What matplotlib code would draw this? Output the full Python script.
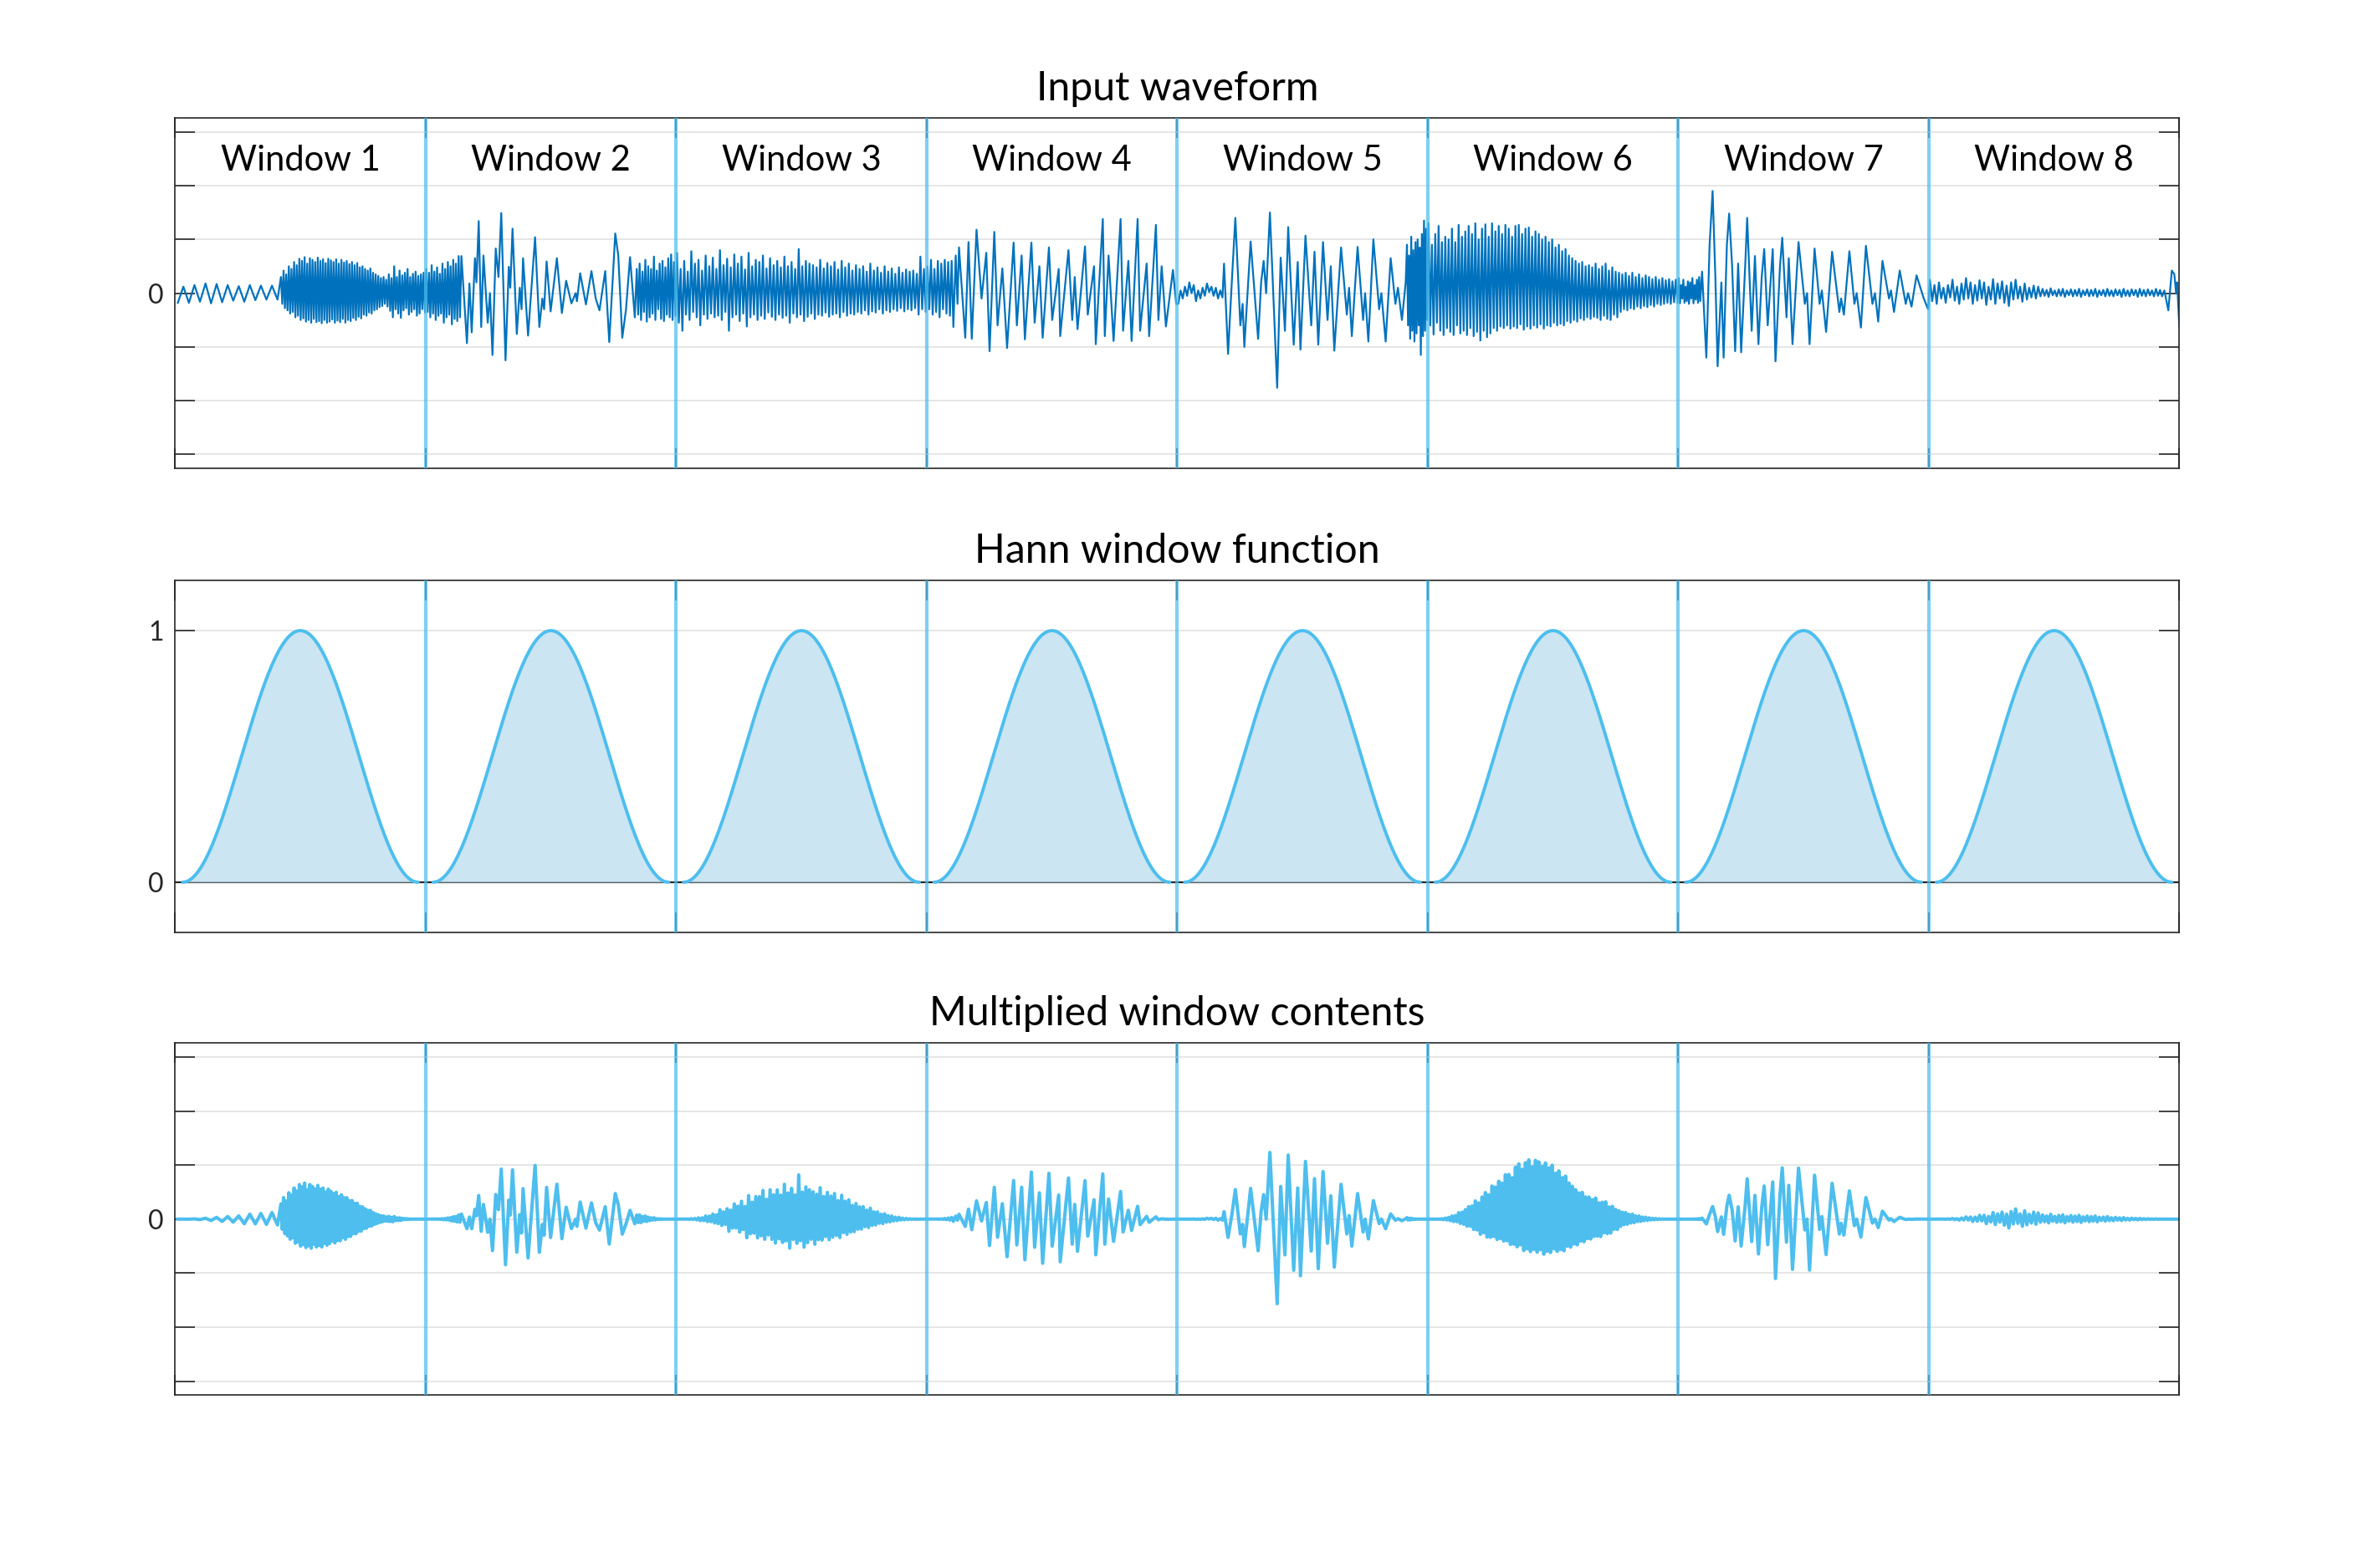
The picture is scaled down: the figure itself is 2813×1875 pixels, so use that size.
import numpy as np
import matplotlib
matplotlib.use("Agg")
import matplotlib.pyplot as plt

# ---------------- data ----------------
titles = ["Input waveform", "Hann window function", "Multiplied window contents"]
window_labels = ["Window 1", "Window 2", "Window 3", "Window 4",
                 "Window 5", "Window 6", "Window 7", "Window 8"]
n_windows = 8
hann_gap = 0.03          # fraction of a window left empty at each edge
wave_ticks = [-3, -2, -1, 0, 1, 2, 3]
hann_ticks = [0, 1]

# Window 1
w1_slow = [-0.18, 0.12, -0.18, 0.15, -0.16, 0.18, -0.19, 0.17, -0.17, 0.15,
           -0.14, 0.13, -0.16, 0.15, -0.13, 0.14, -0.12, 0.14, -0.12]
w1_burst_peaks = [0.30, 0.42, 0.35, 0.50, 0.45, 0.58, 0.52, 0.64, 0.60, 0.67,
                  0.55, 0.65, 0.62, 0.58, 0.66, 0.60, 0.63, 0.56, 0.64, 0.61,
                  0.58, 0.63, 0.55, 0.62, 0.57, 0.60, 0.54, 0.58, 0.52, 0.56,
                  0.48, 0.50, 0.45, 0.42, 0.46, 0.38, 0.35, 0.32, 0.28, 0.30]
w1_burst_troughs = [-0.20, -0.28, -0.32, -0.38, -0.35, -0.45, -0.42, -0.50, -0.47, -0.53,
                    -0.50, -0.55, -0.48, -0.54, -0.52, -0.56, -0.50, -0.55, -0.53, -0.49,
                    -0.55, -0.51, -0.54, -0.48, -0.55, -0.50, -0.52, -0.46, -0.50, -0.44,
                    -0.47, -0.40, -0.42, -0.36, -0.38, -0.32, -0.30, -0.26, -0.24, -0.20]
w1_tail_peaks = [0.25, 0.35, 0.28, 0.50, 0.30, 0.42, 0.33, 0.38, 0.45, 0.30,
                 0.36, 0.40, 0.32, 0.35, 0.38]
w1_tail_troughs = [-0.25, -0.33, -0.45, -0.30, -0.38, -0.46, -0.32, -0.28, -0.40, -0.35,
                   -0.30, -0.42, -0.38, -0.30, -0.36]

# Window 2
w2_head_peaks = [0.45, 0.38, 0.52, 0.40, 0.48, 0.36, 0.55, 0.45, 0.58, 0.50, 0.62, 0.55, 0.69]
w2_head_troughs = [-0.35, -0.45, -0.38, -0.50, -0.42, -0.38, -0.55, -0.45, -0.40, -0.58,
                   -0.48, -0.52, -0.45]
w2_pos = [0.143, 0.165, 0.175, 0.184, 0.197, 0.203, 0.212, 0.222, 0.231, 0.248,
          0.257, 0.267, 0.280, 0.291, 0.302, 0.319, 0.332, 0.338, 0.347, 0.364,
          0.376, 0.383, 0.389, 0.409, 0.424, 0.437, 0.454, 0.466, 0.473, 0.483,
          0.499, 0.524, 0.544, 0.561, 0.582, 0.599, 0.604, 0.617, 0.640, 0.662,
          0.679, 0.694, 0.717, 0.733, 0.757, 0.769, 0.785, 0.800, 0.816, 0.835]
w2_val = [0.69, -0.93, 0.18, -0.73, 0.65, 0.20, 1.34, -0.63, 0.70, -0.55,
          0.00, -1.15, 0.83, 0.30, 1.49, -1.25, 0.49, 0.10, 1.20, -0.76,
          0.10, -0.30, 0.65, -0.79, 0.20, 1.04, -0.63, -0.10, -0.30, 0.59,
          -0.34, 0.65, -0.37, 0.23, -0.19, 0.00, -0.15, 0.37, -0.21, 0.41,
          -0.10, -0.32, 0.41, -0.91, 1.11, 0.70, -0.83, -0.30, 0.67, -0.45]
w2_tail_peaks = [0.45, 0.55, 0.40, 0.62, 0.50, 0.45, 0.68, 0.42, 0.55, 0.60,
                 0.48, 0.65, 0.72, 0.58]
w2_tail_troughs = [-0.40, -0.50, -0.35, -0.53, -0.45, -0.38, -0.50, -0.30, -0.48, -0.52,
                   -0.40, -0.45, -0.50, -0.42]

# Window 3
w3_peaks = [0.75, 0.45, 0.60, 0.40, 0.78, 0.55, 0.62, 0.42, 0.70, 0.50,
            0.66, 0.45, 0.80, 0.52, 0.64, 0.48, 0.72, 0.55, 0.68, 0.44,
            0.75, 0.50, 0.62, 0.58, 0.70, 0.46, 0.65, 0.52, 0.60, 0.48,
            0.68, 0.50, 0.58, 0.45, 0.82, 0.50, 0.60, 0.55, 0.52, 0.48,
            0.62, 0.46, 0.56, 0.50, 0.58, 0.44, 0.60, 0.48, 0.55, 0.42,
            0.52, 0.45, 0.50, 0.40, 0.55, 0.42, 0.48, 0.38, 0.50, 0.40,
            0.46, 0.36, 0.48, 0.38, 0.44, 0.40, 0.42, 0.36, 0.68, 0.45]
w3_troughs = [-0.55, -0.70, -0.40, -0.50, -0.35, -0.45, -0.60, -0.40, -0.48, -0.38,
              -0.45, -0.42, -0.50, -0.35, -0.70, -0.45, -0.40, -0.52, -0.38, -0.62,
              -0.45, -0.40, -0.50, -0.42, -0.48, -0.36, -0.44, -0.50, -0.40, -0.46,
              -0.42, -0.55, -0.38, -0.45, -0.40, -0.52, -0.44, -0.38, -0.48, -0.40,
              -0.42, -0.36, -0.44, -0.40, -0.38, -0.45, -0.35, -0.42, -0.38, -0.40,
              -0.35, -0.38, -0.32, -0.40, -0.34, -0.36, -0.30, -0.38, -0.32, -0.35,
              -0.30, -0.33, -0.28, -0.34, -0.30, -0.32, -0.28, -0.40, -0.30, -0.35]

# Window 4
w4_head_peaks = [0.50, 0.62, 0.45, 0.60, 0.55, 0.62, 0.58, 0.60]
w4_head_troughs = [-0.30, -0.40, -0.35, -0.45, -0.30, -0.38, -0.42, -0.63]
w4_pos = [0.116, 0.123, 0.129, 0.154, 0.167, 0.180, 0.199, 0.219, 0.238, 0.251,
          0.270, 0.283, 0.302, 0.321, 0.347, 0.360, 0.379, 0.392, 0.418, 0.431,
          0.450, 0.463, 0.488, 0.501, 0.527, 0.533, 0.566, 0.581, 0.591, 0.602,
          0.632, 0.643, 0.668, 0.675, 0.703, 0.711, 0.726, 0.746, 0.774, 0.784,
          0.805, 0.818, 0.842, 0.852, 0.878, 0.888, 0.915, 0.925, 0.938, 0.955,
          0.983, 0.996]
w4_val = [0.70, -0.20, 0.85, -0.83, 0.95, -0.85, 1.18, -0.10, 0.75, -1.08,
          1.14, -0.60, 0.46, -1.02, 0.94, -0.60, 0.70, -0.86, 0.94, -0.55,
          0.50, -0.83, 0.85, -0.50, 0.45, -0.80, 0.80, -0.50, 0.30, -0.67,
          0.87, -0.40, 0.50, -0.95, 1.38, -0.80, 0.70, -0.89, 1.38, -0.70,
          0.60, -0.89, 1.38, -0.70, 0.55, -0.80, 1.27, -0.50, 0.50, -0.62,
          0.43, -0.20]

# Window 5
w5_head = [-0.20, 0.05, -0.10, 0.12, -0.05, 0.20, 0.00, 0.15, -0.15, 0.05,
           -0.10, 0.10, -0.05, 0.18, 0.02, 0.12, -0.05, 0.10, -0.10, 0.05, -0.08]
w5_pos = [0.187, 0.203, 0.219, 0.232, 0.252, 0.261, 0.268, 0.293, 0.323, 0.335,
          0.345, 0.355, 0.370, 0.399, 0.413, 0.430, 0.443, 0.465, 0.481, 0.492,
          0.512, 0.535, 0.548, 0.563, 0.582, 0.600, 0.613, 0.627, 0.654, 0.677,
          0.686, 0.697, 0.720, 0.742, 0.750, 0.763, 0.783, 0.806, 0.815, 0.832,
          0.852, 0.871, 0.881, 0.897, 0.912]
w5_val = [0.55, -1.13, 0.30, 1.40, -0.60, -0.20, -1.00, 0.96, -0.85, 0.20,
          0.60, 0.00, 1.50, -1.76, 0.66, -0.70, 1.23, -0.96, 0.58, -1.05,
          1.07, -0.60, 0.77, -0.96, 0.95, -0.50, 0.50, -1.07, 0.85, -0.40,
          0.10, -0.80, 0.86, -0.50, 0.00, -0.90, 1.00, -0.30, 0.00, -0.90,
          0.65, -0.20, 0.10, -0.50, 0.20]
w5_tail_peaks = [0.90, 0.70, 1.05, 0.80, 0.95, 1.00, 0.85, 1.10, 1.35, 1.20]
w5_tail_troughs = [-0.60, -0.85, -0.70, -0.90, -0.75, -0.60, -1.15, -0.80, -0.70, -0.50]

# Window 6
w6_peaks = [1.30, 0.90, 1.10, 1.25, 0.95, 1.05, 1.00, 1.20, 0.95, 1.27,
            1.05, 1.15, 1.25, 1.10, 1.30, 1.00, 1.20, 1.28, 1.05, 1.30,
            1.15, 1.25, 1.10, 1.27, 1.20, 1.05, 1.25, 1.27, 1.10, 1.20,
            1.22, 1.05, 1.15, 1.10, 1.00, 1.05, 0.95, 1.00, 0.85, 0.90,
            0.78, 0.82, 0.70, 0.65, 0.60, 0.55, 0.58, 0.50, 0.52, 0.48,
            0.55, 0.45, 0.50, 0.55, 0.42, 0.48, 0.40, 0.38, 0.35, 0.38,
            0.32, 0.38, 0.30, 0.35, 0.28, 0.33, 0.30, 0.26, 0.30, 0.25,
            0.28, 0.24, 0.26, 0.22, 0.25]
w6_troughs = [-0.60, -0.77, -0.55, -0.70, -0.78, -0.65, -0.72, -0.78, -0.60, -0.75,
              -0.70, -0.78, -0.65, -0.80, -0.72, -0.88, -0.70, -0.82, -0.75, -0.65,
              -0.70, -0.62, -0.65, -0.60, -0.66, -0.62, -0.65, -0.58, -0.68, -0.62,
              -0.66, -0.60, -0.64, -0.58, -0.66, -0.60, -0.62, -0.55, -0.60, -0.57,
              -0.60, -0.52, -0.55, -0.50, -0.53, -0.47, -0.50, -0.45, -0.48, -0.44,
              -0.46, -0.50, -0.42, -0.48, -0.50, -0.40, -0.45, -0.35, -0.30, -0.32,
              -0.28, -0.30, -0.25, -0.28, -0.24, -0.26, -0.22, -0.25, -0.20, -0.22,
              -0.20, -0.18, -0.20, -0.17, -0.18]

# Window 7
w7_head_peaks = [0.28, 0.15, 0.25, 0.12, 0.22, 0.20, 0.28, 0.15, 0.25, 0.30]
w7_head_troughs = [-0.19, -0.10, -0.18, -0.15, -0.20, -0.10, -0.19, -0.12, -0.18, -0.15]
w7_pos = [0.095, 0.112, 0.125, 0.137, 0.148, 0.157, 0.172, 0.181, 0.194, 0.203,
          0.215, 0.227, 0.239, 0.251, 0.267, 0.275, 0.293, 0.306, 0.320, 0.333,
          0.343, 0.357, 0.377, 0.388, 0.406, 0.415, 0.432, 0.441, 0.456, 0.480,
          0.505, 0.514, 0.524, 0.544, 0.564, 0.573, 0.590, 0.614, 0.643, 0.650,
          0.661, 0.683, 0.703, 0.712, 0.729, 0.749, 0.775, 0.785, 0.798, 0.815,
          0.841, 0.849, 0.861, 0.884, 0.908, 0.917, 0.931, 0.951, 0.980, 0.997]
w7_val = [0.40, -1.20, 0.90, 1.90, 0.30, -1.36, 0.20, -1.20, 0.90, 1.48,
          0.50, -1.08, 0.55, -1.10, 0.50, 1.40, -0.70, 0.69, -0.95, 0.30,
          0.82, -0.60, 0.82, -1.27, 0.50, 1.03, -0.45, 0.65, -0.95, 0.95,
          -0.20, 0.00, -0.95, 0.83, -0.20, 0.05, -0.72, 0.77, -0.35, -0.10,
          -0.40, 0.78, -0.20, 0.00, -0.64, 0.88, -0.20, 0.00, -0.53, 0.60,
          -0.10, 0.05, -0.35, 0.42, -0.20, 0.00, -0.25, 0.33, -0.10, -0.30]

# Window 8
w8_head_peaks = [0.25, 0.15, 0.20, 0.10, 0.15, 0.25, 0.12, 0.18, 0.28, 0.20,
                 0.15, 0.24, 0.20, 0.12, 0.26, 0.18, 0.22, 0.14, 0.20, 0.25,
                 0.12, 0.18, 0.10, 0.14, 0.12]
w8_head_troughs = [-0.15, -0.20, -0.10, -0.18, -0.08, -0.14, -0.20, -0.12, -0.10, -0.20,
                   -0.14, -0.10, -0.22, -0.12, -0.20, -0.10, -0.18, -0.24, -0.12, -0.10,
                   -0.16, -0.12, -0.08, -0.10, -0.06]
w8_mid_peaks = [0.08, 0.06, 0.09, 0.05, 0.07, 0.08, 0.05, 0.07, 0.06, 0.08,
                0.05, 0.07, 0.06, 0.08, 0.05, 0.06, 0.08, 0.05, 0.07, 0.06,
                0.08, 0.05, 0.07, 0.06, 0.08, 0.06, 0.07, 0.05, 0.08, 0.06]
w8_mid_troughs = [-0.05, -0.07, -0.04, -0.06, -0.05, -0.07, -0.04, -0.06, -0.05, -0.07,
                  -0.04, -0.06, -0.05, -0.07, -0.04, -0.06, -0.05, -0.06, -0.04, -0.07,
                  -0.05, -0.06, -0.04, -0.07, -0.05, -0.06, -0.04, -0.06, -0.05, -0.06]
w8_pos = [0.940, 0.956, 0.970, 0.980, 0.987, 0.991, 1.000]
w8_val = [0.05, -0.32, 0.42, 0.35, 0.00, 0.20, -0.63]


# ---------------- assemble the sample sequence ----------------
def interleave(peaks, troughs):
    return list(np.ravel(np.column_stack([peaks, troughs])))


# evenly spaced pieces: (window index, start fraction, end fraction, values)
even_pieces = [
    (0, 0.00, 0.42, w1_slow),
    (0, 0.42, 0.84, interleave(w1_burst_peaks, w1_burst_troughs)),
    (0, 0.84, 1.00, interleave(w1_tail_peaks, w1_tail_troughs)),
    (1, 0.00, 0.14, interleave(w2_head_peaks, w2_head_troughs)),
    (1, 0.84, 1.00, interleave(w2_tail_peaks, w2_tail_troughs)),
    (2, 0.00, 1.00, interleave(w3_peaks, w3_troughs)),
    (3, 0.00, 0.11, interleave(w4_head_peaks, w4_head_troughs)),
    (4, 0.00, 0.185, w5_head),
    (4, 0.915, 1.00, interleave(w5_tail_peaks, w5_tail_troughs)),
    (5, 0.00, 1.00, interleave(w6_peaks, w6_troughs)),
    (6, 0.00, 0.09, interleave(w7_head_peaks, w7_head_troughs)),
    (7, 0.00, 0.45, interleave(w8_head_peaks, w8_head_troughs)),
    (7, 0.45, 0.935, interleave(w8_mid_peaks, w8_mid_troughs)),
]
# explicitly placed pieces: (window index, fractions, values)
placed_pieces = [
    (1, w2_pos, w2_val),
    (3, w4_pos, w4_val),
    (4, w5_pos, w5_val),
    (6, w7_pos, w7_val),
    (7, w8_pos, w8_val),
]

xs, ys = [], []
for w, a, b, vals in even_pieces:
    n = len(vals)
    step = (b - a) / n
    xs.extend(w + a + step * (np.arange(n) + 0.5))
    ys.extend(vals)
for w, pos, vals in placed_pieces:
    xs.extend(w + np.asarray(pos))
    ys.extend(vals)
order = np.argsort(xs, kind="stable")
wave_x = np.asarray(xs)[order]
wave_y = np.asarray(ys)[order]


def hann_at(x):
    frac = x - np.floor(x)
    frac = np.where(x >= n_windows, 1.0, frac)
    t = (frac - hann_gap) / (1 - 2 * hann_gap)
    h = 0.5 * (1 - np.cos(2 * np.pi * t))
    return np.where((t >= 0) & (t <= 1), h, 0.0)


mult_y = wave_y * hann_at(wave_x)

# ---------------- styling ----------------
plt.rcParams["font.family"] = ["Lato", "DejaVu Sans"]
DARK = "#262626"
BLUE = "#0072BD"
LIGHT = "#4DBEEE"
GRID = "#DFDFDF"

fig = plt.figure(figsize=(2813 / 200, 1875 / 200), dpi=200)
left, right = 0.0744, 0.9262
rects = [(0.7013, 0.9248), (0.4053, 0.6299), (0.1102, 0.3348)]
axes = [fig.add_axes([left, b, right - left, t - b]) for b, t in rects]

for ax in axes:
    ax.set_xlim(0, n_windows)
    ax.set_xticks(range(n_windows + 1))
    ax.set_xticklabels([])
    ax.tick_params(axis="both", direction="in", length=8.6, width=0.6,
                   color=DARK, top=True, right=True, labelsize=11.5,
                   labelcolor=DARK, pad=5)
    ax.tick_params(axis="x", labelbottom=False)
    for sp in ax.spines.values():
        sp.set_color(DARK)
        sp.set_linewidth(0.6)
    ax.yaxis.grid(True, color=GRID, linewidth=0.55)
    ax.xaxis.grid(False)
    ax.set_axisbelow(True)
    for k in range(1, n_windows):
        ax.axvline(k, color=LIGHT, lw=1.5, alpha=0.72, zorder=3)

# top: input waveform
ax0 = axes[0]
ax0.plot(wave_x, wave_y, color=BLUE, lw=0.8, zorder=2)
ax0.set_ylim(-3.26, 3.26)
ax0.set_yticks(wave_ticks)
ax0.set_yticklabels(["0" if v == 0 else "" for v in wave_ticks])
label_objs = []
for k, lab in enumerate(window_labels):
    label_objs.append(ax0.text(k + 0.5, 2.28, lab, ha="center", va="baseline",
                               fontsize=16, color="black", zorder=4))

# middle: Hann windows
ax1 = axes[1]
ax1.set_ylim(-0.2, 1.2)
ax1.set_yticks(hann_ticks)
ax1.set_yticklabels(["0", "1"])
ax1.axhline(0, color=DARK, lw=0.8, zorder=1.8)
for k in range(n_windows):
    hx = np.linspace(k + hann_gap, k + 1 - hann_gap, 300)
    hy = hann_at(np.minimum(hx, k + 1 - 1e-9))
    ax1.fill_between(hx, 0, hy, color=(0.75, 0.875, 0.937), alpha=0.8,
                     lw=0, zorder=2)
    ax1.plot(hx, hy, color=LIGHT, lw=1.4, solid_capstyle="round", zorder=2.5)

# bottom: multiplied
ax2 = axes[2]
ax2.plot(wave_x, mult_y, color=LIGHT, lw=1.45, zorder=2)
ax2.set_ylim(-3.26, 3.26)
ax2.set_yticks(wave_ticks)
ax2.set_yticklabels(["0" if v == 0 else "" for v in wave_ticks])

title_objs = []
for ax, t in zip(axes, titles):
    title_objs.append(ax.set_title(t, fontsize=18, pad=7.5, y=1.0, color="black"))

# fit text sizes to the widths measured on the reference (pixels)
fig.canvas.draw()
r = fig.canvas.get_renderer()
title_targets = [334, 489, 595]
ratios = [tg / to.get_window_extent(r).width for tg, to in zip(title_targets, title_objs)]
ts = 18 * float(np.mean(ratios))
for to in title_objs:
    to.set_fontsize(ts)
lab_ratio = 191 / label_objs[0].get_window_extent(r).width
for lo in label_objs:
    lo.set_fontsize(16 * lab_ratio)

fig.savefig("out.png", dpi=200, facecolor="white")
